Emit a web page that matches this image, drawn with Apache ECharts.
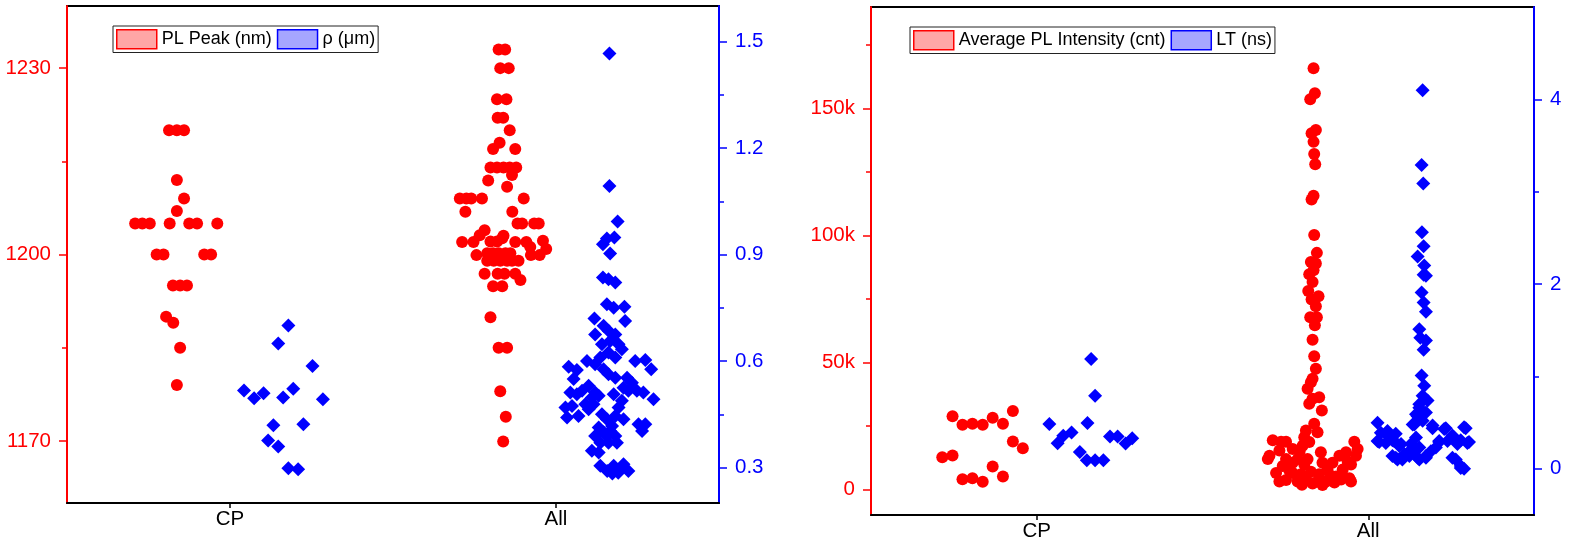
<!DOCTYPE html>
<html>
<head>
<meta charset="utf-8">
<title>PL peak / rho and PL intensity / lifetime</title>
<script src="https://cdn.jsdelivr.net/npm/echarts@6.0.0/dist/echarts.min.js"></script>
<style>
  html, body { margin: 0; padding: 0; background: #fff; }
  #chart { width: 1570px; height: 541px; }
</style>
</head>
<body>
<div id="chart"></div>
<script>
// categories on the x axis (x = 1 for CP, x = 2 for All, points spread around them)
const categories = ['CP', 'All']

// left panel: PL peak (nm), [x, value]
const plPeak = [
  [0.813, 1220], [0.837, 1220], [0.859, 1220],
  [0.837, 1212], [0.859, 1209], [0.837, 1207],
  [0.709, 1205], [0.731, 1205], [0.754, 1205], [0.815, 1205], [0.875, 1205], [0.899, 1205], [0.961, 1205],
  [0.775, 1200], [0.796, 1200], [0.921, 1200], [0.942, 1200],
  [0.825, 1195], [0.847, 1195], [0.868, 1195],
  [0.804, 1190], [0.826, 1189], [0.847, 1185], [0.837, 1179],
  [1.824, 1233], [1.844, 1233], [1.829, 1230], [1.855, 1230],
  [1.819, 1225], [1.848, 1225], [1.821, 1222], [1.838, 1222],
  [1.858, 1220], [1.827, 1218], [1.807, 1217], [1.875, 1217],
  [1.799, 1214], [1.819, 1214], [1.839, 1214], [1.858, 1214], [1.878, 1214],
  [1.865, 1212.8], [1.792, 1211.9], [1.850, 1210.9],
  [1.705, 1209], [1.725, 1209], [1.740, 1209], [1.773, 1209], [1.901, 1209],
  [1.722, 1206.9], [1.866, 1206.9],
  [1.882, 1205], [1.896, 1205], [1.933, 1205], [1.947, 1205],
  [1.781, 1203.9], [1.766, 1203.1], [1.747, 1202], [1.712, 1202], [1.839, 1203],
  [1.799, 1202.1], [1.819, 1202.1], [1.835, 1202.6], [1.875, 1202], [1.909, 1202],
  [1.921, 1201.2], [1.960, 1202.2], [1.970, 1200.9], [1.950, 1199.9], [1.923, 1199.9], [1.756, 1199.9],
  [1.789, 1200.2], [1.807, 1200.2], [1.824, 1200.2], [1.845, 1200.2], [1.860, 1200.2],
  [1.789, 1199], [1.809, 1199], [1.829, 1199], [1.850, 1199], [1.865, 1199], [1.885, 1199],
  [1.781, 1196.9], [1.821, 1196.9], [1.842, 1196.9], [1.875, 1196.9], [1.891, 1195.9],
  [1.807, 1194.9], [1.835, 1194.9],
  [1.799, 1189.9], [1.824, 1185], [1.850, 1185], [1.829, 1178], [1.846, 1173.9], [1.838, 1169.9]
]

// left panel: rho (um)
const rho = [
  [1.179, 0.70], [1.148, 0.649], [1.253, 0.586], [1.043, 0.517], [1.074, 0.495], [1.103, 0.509],
  [1.163, 0.497], [1.194, 0.522], [1.285, 0.492], [1.133, 0.419], [1.225, 0.422], [1.117, 0.376],
  [1.148, 0.359], [1.179, 0.298], [1.209, 0.295],
  [2.164, 1.466], [2.164, 1.093], [2.189, 0.993],
  [2.144, 0.929], [2.156, 0.945], [2.179, 0.948], [2.166, 0.903],
  [2.144, 0.835], [2.161, 0.830], [2.182, 0.821],
  [2.156, 0.760], [2.177, 0.750], [2.210, 0.753], [2.212, 0.713], [2.118, 0.720],
  [2.146, 0.699], [2.161, 0.685], [2.182, 0.675], [2.120, 0.675],
  [2.141, 0.647], [2.166, 0.656], [2.192, 0.647], [2.202, 0.633],
  [2.161, 0.624], [2.182, 0.610], [2.136, 0.610], [2.120, 0.591], [2.095, 0.600],
  [2.039, 0.584], [2.064, 0.575], [2.243, 0.600], [2.274, 0.603], [2.292, 0.577],
  [2.146, 0.577], [2.161, 0.563], [2.182, 0.553], [2.054, 0.549],
  [2.218, 0.553], [2.233, 0.539], [2.207, 0.525],
  [2.100, 0.530], [2.080, 0.516], [2.120, 0.511], [2.110, 0.497], [2.131, 0.502],
  [2.044, 0.511], [2.064, 0.506], [2.177, 0.506], [2.202, 0.488], [2.222, 0.516],
  [2.248, 0.516], [2.268, 0.511], [2.299, 0.492],
  [2.029, 0.469], [2.049, 0.473], [2.034, 0.441], [2.069, 0.445],
  [2.090, 0.478], [2.115, 0.478], [2.100, 0.464],
  [2.192, 0.469], [2.182, 0.445], [2.207, 0.436],
  [2.141, 0.450], [2.156, 0.436], [2.172, 0.417],
  [2.253, 0.422], [2.274, 0.422], [2.264, 0.403],
  [2.131, 0.413], [2.120, 0.389], [2.146, 0.399], [2.166, 0.403], [2.182, 0.389],
  [2.136, 0.370], [2.161, 0.370], [2.187, 0.370], [2.156, 0.389],
  [2.110, 0.347], [2.131, 0.342],
  [2.136, 0.305], [2.177, 0.305], [2.207, 0.309], [2.202, 0.300],
  [2.157, 0.290], [2.191, 0.285], [2.222, 0.290], [2.173, 0.283]
]

// right panel: average PL intensity (cnt)
const plIntensity = [
  [0.746, 28900], [0.776, 25500], [0.806, 25900], [0.837, 25500], [0.867, 28300], [0.898, 25900],
  [0.928, 30900], [0.928, 18900], [0.958, 16300], [0.715, 12700], [0.746, 13400], [0.867, 9100],
  [0.776, 4100], [0.806, 4500], [0.837, 3100], [0.898, 5200],
  [1.835, 165900], [1.839, 156000], [1.825, 153700], [1.842, 141600], [1.829, 140300], [1.835, 136900],
  [1.837, 132100], [1.840, 128100], [1.835, 115700], [1.829, 114200], [1.837, 100200], [1.845, 93200],
  [1.827, 89600], [1.842, 89000], [1.822, 84800], [1.835, 86400], [1.832, 81700], [1.819, 78200],
  [1.850, 76100], [1.829, 74800], [1.842, 72200], [1.825, 67900], [1.845, 67900], [1.839, 64700],
  [1.832, 59000], [1.837, 52500], [1.842, 47600], [1.832, 43600],
  [1.827, 42300], [1.817, 39700], [1.852, 36400], [1.832, 35800], [1.822, 33800], [1.860, 31100],
  [1.837, 25900], [1.847, 22600], [1.812, 23300], [1.807, 20600], [1.802, 17300], [1.822, 18700],
  [1.712, 19400], [1.752, 18800], [1.772, 16000], [1.702, 13300], [1.732, 15400], [1.752, 12000],
  [1.722, 6500], [1.732, 3200], [1.752, 3800], [1.772, 6500], [1.787, 3200], [1.807, 9900],
  [1.817, 12000], [1.832, 2400], [1.847, 3200], [1.862, 10600], [1.857, 14700], [1.877, 7900],
  [1.873, 3200], [1.892, 10600], [1.903, 5200], [1.913, 13300], [1.923, 7900], [1.933, 14700],
  [1.943, 4500], [1.948, 9900], [1.958, 18800], [1.963, 13300], [1.948, 3200], [1.968, 16000],
  [1.787, 12000], [1.772, 10600], [1.742, 9300], [1.697, 12000], [1.737, 18800],
  [1.762, 7500], [1.797, 6000], [1.812, 4500], [1.827, 7000], [1.852, 6000], [1.887, 5500],
  [1.898, 2800], [1.918, 4000], [1.938, 11000], [1.793, 15000], [1.800, 1900], [1.862, 1800]
]

// right panel: lifetime LT (ns)
const lifetime = [
  [1.164, 1.19], [1.176, 0.79], [1.038, 0.484], [1.153, 0.495], [1.080, 0.357], [1.105, 0.393],
  [1.063, 0.278], [1.221, 0.349], [1.244, 0.349], [1.268, 0.273], [1.288, 0.332], [1.130, 0.183],
  [1.151, 0.093], [1.176, 0.093], [1.201, 0.093],
  [2.164, 4.10], [2.161, 3.29], [2.166, 3.09], [2.162, 2.56], [2.167, 2.41], [2.149, 2.30],
  [2.169, 2.20], [2.167, 2.10], [2.174, 2.09], [2.161, 1.91], [2.167, 1.80], [2.174, 1.70],
  [2.154, 1.51], [2.157, 1.42], [2.174, 1.39], [2.167, 1.29], [2.161, 1.01], [2.169, 0.90],
  [2.164, 0.79], [2.179, 0.74], [2.154, 0.70], [2.174, 0.61], [2.149, 0.57], [2.164, 0.52],
  [2.028, 0.50], [2.038, 0.39], [2.058, 0.41], [2.083, 0.38], [2.028, 0.30], [2.053, 0.28],
  [2.078, 0.30], [2.099, 0.27], [2.073, 0.14], [2.088, 0.10], [2.109, 0.16], [2.124, 0.19],
  [2.129, 0.27], [2.144, 0.34], [2.139, 0.48], [2.154, 0.23], [2.149, 0.12], [2.174, 0.12],
  [2.189, 0.19], [2.204, 0.23], [2.194, 0.47], [2.229, 0.43], [2.214, 0.30], [2.239, 0.30],
  [2.259, 0.34], [2.289, 0.45], [2.269, 0.27], [2.299, 0.28], [2.254, 0.12], [2.279, 0.03],
  [2.289, 0.00], [2.033, 0.29], [2.058, 0.36], [2.073, 0.31], [2.093, 0.25], [2.083, 0.12],
  [2.103, 0.10], [2.124, 0.14], [2.144, 0.21], [2.154, 0.10], [2.174, 0.14], [2.194, 0.44],
  [2.214, 0.29], [2.234, 0.44], [2.254, 0.36], [2.279, 0.31], [2.294, 0.44], [2.304, 0.29],
  [2.264, 0.10], [2.279, 0.01], [2.134, 0.48], [2.144, 0.59], [2.154, 0.66]
]

// tick values (major with labels, minor without)
const peakTicks = [1170, 1200, 1230]
const peakMinor = [1185, 1215]
const rhoTicks = [0.3, 0.6, 0.9, 1.2, 1.5]
const rhoMinor = [0.45, 0.75, 1.05, 1.35]
const intensityTicks = [0, 50000, 100000, 150000]
const intensityMinor = [25000, 75000, 125000, 175000]
const ltTicks = [0, 2, 4]
const ltMinor = [1, 3]

const RED = '#ff0000'
const BLUE = '#0000ff'
const FONT = '"Liberation Sans", Arial, sans-serif'
const AXIS_FONT = 20.5

const chart = echarts.init(document.getElementById('chart'))

const xAxisFor = (gridIndex) => ({
  gridIndex,
  type: 'value',
  min: 0.5,
  max: 2.5,
  axisLine: { show: true, onZero: false, lineStyle: { color: '#000', width: 2 } },
  axisTick: { show: true, customValues: [1, 2], length: 5, lineStyle: { color: '#000', width: 1.5 } },
  axisLabel: {
    customValues: [1, 2],
    formatter: (v) => categories[Math.round(v) - 1],
    color: '#000',
    fontSize: AXIS_FONT,
    fontFamily: FONT,
    margin: 6
  },
  splitLine: { show: false }
})

const yAxisFor = (gridIndex, position, min, max, ticks, color, fmt) => ({
  gridIndex,
  type: 'value',
  position,
  min,
  max,
  axisLine: { show: true, onZero: false, lineStyle: { color, width: 2 } },
  axisTick: { show: true, customValues: ticks, length: 8, lineStyle: { color, width: 1.5 } },
  axisLabel: { customValues: ticks, formatter: fmt, color, fontSize: AXIS_FONT, fontFamily: FONT, margin: 16 },
  splitLine: { show: false }
})

const minorAxisFor = (gridIndex, position, min, max, minor, color) => ({
  gridIndex,
  type: 'value',
  position,
  min,
  max,
  axisLine: { show: false, onZero: false },
  axisTick: { show: true, customValues: minor, length: 5, lineStyle: { color, width: 1.5 } },
  axisLabel: { show: false },
  splitLine: { show: false }
})

const legendFor = (left, top, items) => ({
  left,
  top,
  orient: 'horizontal',
  selectedMode: false,
  itemWidth: 40,
  itemHeight: 19,
  itemGap: 5,
  padding: [3, 3, 3, 3],
  borderColor: '#222',
  borderWidth: 1,
  textStyle: { fontSize: 18, color: '#000', fontFamily: FONT },
  data: items.map(([name, fill, stroke]) => ({
    name,
    icon: 'rect',
    itemStyle: { color: fill, borderColor: stroke, borderWidth: 1.5 }
  }))
})

const option = {
  animation: false,
  backgroundColor: '#fff',
  textStyle: { fontFamily: FONT },
  grid: [
    { left: 67, top: 6, width: 652, height: 497, show: true, borderColor: '#000', borderWidth: 2, outerBoundsMode: 'none' },
    { left: 871, top: 7, width: 663, height: 508, show: true, borderColor: '#000', borderWidth: 2, outerBoundsMode: 'none' }
  ],
  legend: [
    legendFor(113, 26, [['PL Peak (nm)', '#ffa6a6', RED], ['ρ (μm)', '#a6a6ff', BLUE]]),
    legendFor(910, 27, [['Average PL Intensity (cnt)', '#ffa6a6', RED], ['LT (ns)', '#a6a6ff', BLUE]])
  ],
  xAxis: [xAxisFor(0), xAxisFor(1)],
  yAxis: [
    yAxisFor(0, 'left', 1160, 1240, peakTicks, RED, (v) => String(v)),
    minorAxisFor(0, 'left', 1160, 1240, peakMinor, RED),
    yAxisFor(0, 'right', 0.2, 1.6, rhoTicks, BLUE, (v) => v.toFixed(1)),
    minorAxisFor(0, 'right', 0.2, 1.6, rhoMinor, BLUE),
    yAxisFor(1, 'left', -10000, 190000, intensityTicks, RED, (v) => (v === 0 ? '0' : v / 1000 + 'k')),
    minorAxisFor(1, 'left', -10000, 190000, intensityMinor, RED),
    yAxisFor(1, 'right', -0.5, 5, ltTicks, BLUE, (v) => String(v)),
    minorAxisFor(1, 'right', -0.5, 5, ltMinor, BLUE)
  ],
  series: [
    {
      name: 'PL Peak (nm)', type: 'scatter', xAxisIndex: 0, yAxisIndex: 0, data: plPeak,
      symbol: 'circle', symbolSize: 12, itemStyle: { color: RED, opacity: 1 }
    },
    {
      name: 'ρ (μm)', type: 'scatter', xAxisIndex: 0, yAxisIndex: 2, data: rho,
      symbol: 'diamond', symbolSize: 14, itemStyle: { color: BLUE, opacity: 1 }
    },
    {
      name: 'Average PL Intensity (cnt)', type: 'scatter', xAxisIndex: 1, yAxisIndex: 4, data: plIntensity,
      symbol: 'circle', symbolSize: 12, itemStyle: { color: RED, opacity: 1 }
    },
    {
      name: 'LT (ns)', type: 'scatter', xAxisIndex: 1, yAxisIndex: 6, data: lifetime,
      symbol: 'diamond', symbolSize: 14, itemStyle: { color: BLUE, opacity: 1 }
    }
  ]
}

chart.setOption(option)
window.addEventListener('resize', () => chart.resize())
</script>
</body>
</html>
